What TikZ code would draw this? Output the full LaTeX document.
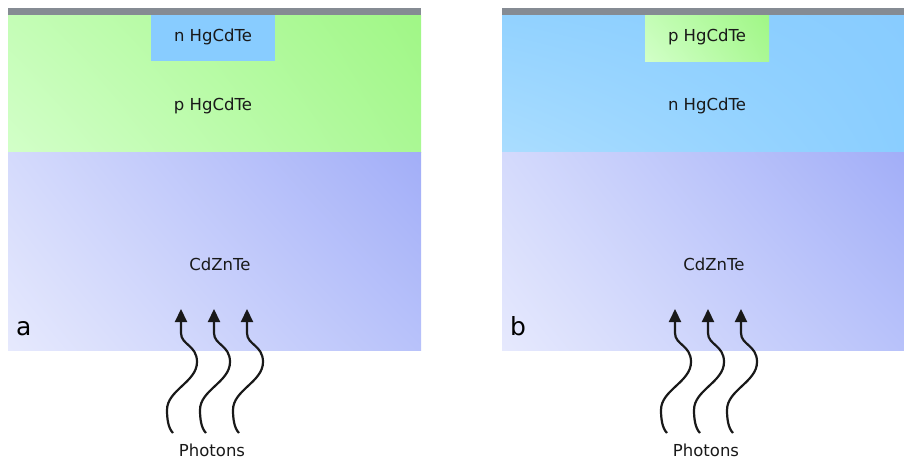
\documentclass[tikz,border=0pt]{standalone}
\usepackage{fontspec}
\setmainfont{DejaVu Sans}
\usetikzlibrary{arrows.meta,shadings}
\definecolor{barc}{HTML}{858B93}
\definecolor{gUL}{HTML}{C4FDB6}
\definecolor{gLL}{HTML}{D2FFC8}
\definecolor{gUR}{HTML}{A0F786}
\definecolor{gLR}{HTML}{AAF894}
\definecolor{bUL}{HTML}{D4DAFC}
\definecolor{bLL}{HTML}{E6E9FD}
\definecolor{bUR}{HTML}{A2AEF8}
\definecolor{bLR}{HTML}{B8C2FA}
\definecolor{cUL}{HTML}{92D2FF}
\definecolor{cLL}{HTML}{AADDFF}
\definecolor{cUR}{HTML}{88CCFF}
\definecolor{cLR}{HTML}{8ACEFF}
\definecolor{nbox}{HTML}{88CCFF}
\tikzset{
  lbl/.style={font=\fontsize{16.5}{19}\selectfont, inner sep=0pt, text=black!90},
  big/.style={font=\fontsize{25}{30}\selectfont, inner sep=0pt},
  photon/.style={line width=2.2pt, black!90, -{Triangle[length=13pt,width=12pt]}},
  greenshade/.style={upper left=gUL, lower left=gLL, upper right=gUR, lower right=gLR},
  blueshade/.style={upper left=bUL, lower left=bLL, upper right=bUR, lower right=bLR},
  cyanshade/.style={upper left=cUL, lower left=cLL, upper right=cUR, lower right=cLR},
}
\newcommand{\photonpath}[1]{%
  \draw[photon] (#1-8,433) .. controls (#1-13,428) and (#1-14,418) .. (#1-14,410)
    .. controls (#1-14,390) and (#1+16,382) .. (#1+16,362)
    .. controls (#1+16,345) and (#1,345) .. (#1,333) -- (#1,309);}
\begin{document}
\begin{tikzpicture}[x=1pt,y=-1pt]
\useasboundingbox (0,0) rectangle (904,459);
% ---- panel a
\shade[greenshade] (8,15) rectangle (421,152);
\shade[blueshade] (8,152) rectangle (421,350);
\fill[nbox] (151,15) rectangle (275,61);
\fill[barc] (8,8) rectangle (421,15);
\node[lbl] (na) at (213,37) {n HgCdTe};
\node[lbl] (pa) at (213,106) {p HgCdTe};
\node[lbl] (sa) at (220,264) {CdZnTe};
\node[big,anchor=base west] (la) at (16,335) {a};
\foreach \x in {181,214,247} {\photonpath{\x}}
\node[lbl] (pha) at (212,450) {Photons};
% ---- panel b
\shade[cyanshade] (502,15) rectangle (904,152);
\shade[blueshade] (502,152) rectangle (904,350);
\shade[greenshade] (645,15) rectangle (769,61);
\fill[barc] (502,8) rectangle (904,15);
\node[lbl] (pb) at (707,37) {p HgCdTe};
\node[lbl] (nb) at (707,106) {n HgCdTe};
\node[lbl] (sb) at (714,264) {CdZnTe};
\node[big,anchor=base west] (lb) at (510,335) {b};
\foreach \x in {675,708,741} {\photonpath{\x}}
\node[lbl] (phb) at (706,450) {Photons};
\end{tikzpicture}
\end{document}
